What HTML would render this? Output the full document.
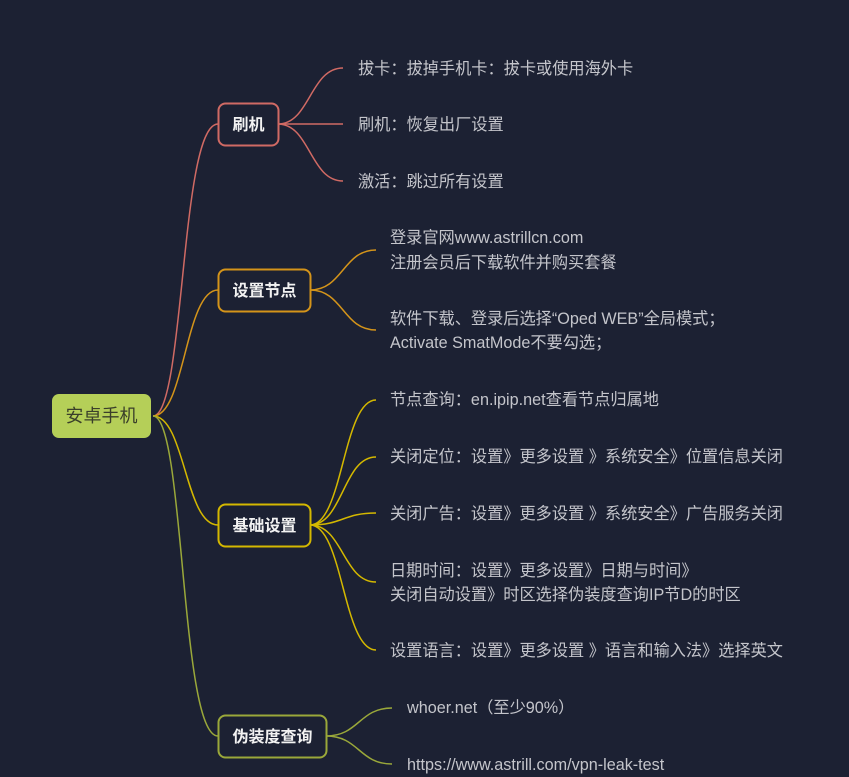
<!DOCTYPE html>
<html><head><meta charset="utf-8"><style>
html,body{margin:0;padding:0;background:#1c2133;}
svg{display:block}
text{font-family:"Liberation Sans","Noto Sans CJK SC",sans-serif;}
.l{fill:#c4c5cb;font-size:16.2px}
.b{fill:#f2f2f2;font-size:16px;font-weight:bold}
</style></head><body>
<svg width="849" height="777" viewBox="0 0 849 777" xmlns="http://www.w3.org/2000/svg">
<rect width="849" height="777" fill="#1c2133"/>
<g fill="none" stroke-width="1.5">
<path d="M153 416 C185 416 180 124 218 124" stroke="#d06a64"/>
<path d="M153 416 C185 416 185 290 218 290" stroke="#d4941a"/>
<path d="M153 416 C185 416 185 525 218 525" stroke="#d4b800"/>
<path d="M153 416 C185 416 180 736 218 736" stroke="#9aa83a"/>
<g stroke="#d06a64">
<path d="M278 124 C310 124 310 68 343 68"/>
<path d="M278 124 L343 124"/>
<path d="M278 124 C310 124 310 181 343 181"/>
</g>
<g stroke="#d4941a">
<path d="M310 290 C343 290 343 250 376 250"/>
<path d="M310 290 C343 290 343 330 376 330"/>
</g>
<g stroke="#d4b800">
<path d="M310 525 C343 525 343 400 376 400"/>
<path d="M310 525 C343 525 343 457 376 457"/>
<path d="M310 525 C343 525 343 513 376 513"/>
<path d="M310 525 C343 525 343 582 376 582"/>
<path d="M310 525 C343 525 343 650 376 650"/>
</g>
<g stroke="#9aa83a">
<path d="M326 736 C359 736 359 708 392 708"/>
<path d="M326 736 C359 736 359 764 392 764"/>
</g>
</g>
<rect x="52" y="394" width="99" height="44" rx="7" fill="#b5cf58"/>
<text x="101.5" y="422" text-anchor="middle" style="fill:#3a3f2a;font-size:18px">安卓手机</text>
<rect x="218.5" y="103.5" width="60" height="42" rx="7" fill="#1c2133" stroke="#d06a64" stroke-width="2"/>
<text x="248.5" y="130" text-anchor="middle" class="b">刷机</text>
<rect x="218.5" y="269.5" width="92" height="42" rx="7" fill="#1c2133" stroke="#d4941a" stroke-width="2"/>
<text x="264.5" y="296" text-anchor="middle" class="b">设置节点</text>
<rect x="218.5" y="504.5" width="92" height="42" rx="7" fill="#1c2133" stroke="#d4b800" stroke-width="2"/>
<text x="264.5" y="531" text-anchor="middle" class="b">基础设置</text>
<rect x="218.5" y="715.5" width="108" height="42" rx="7" fill="#1c2133" stroke="#9aa83a" stroke-width="2"/>
<text x="272.5" y="742" text-anchor="middle" class="b">伪装度查询</text>
<text x="358" y="74" class="l">拔卡：拔掉手机卡：拔卡或使用海外卡</text>
<text x="358" y="130" class="l">刷机：恢复出厂设置</text>
<text x="358" y="187" class="l">激活：跳过所有设置</text>
<text x="390" y="243" class="l">登录官网www.astrillcn.com</text>
<text x="390" y="268" class="l">注册会员后下载软件并购买套餐</text>
<text x="390" y="324" class="l">软件下载、登录后选择“Oped WEB”全局模式；</text>
<text x="390" y="348" class="l">Activate SmatMode不要勾选；</text>
<text x="390" y="405" class="l">节点查询：en.ipip.net查看节点归属地</text>
<text x="390" y="462" class="l">关闭定位：设置》更多设置 》系统安全》位置信息关闭</text>
<text x="390" y="519" class="l">关闭广告：设置》更多设置 》系统安全》广告服务关闭</text>
<text x="390" y="576" class="l">日期时间：设置》更多设置》日期与时间》</text>
<text x="390" y="600" class="l">关闭自动设置》时区选择伪装度查询IP节D的时区</text>
<text x="390" y="656" class="l">设置语言：设置》更多设置 》语言和输入法》选择英文</text>
<text x="407" y="713" class="l">whoer.net（至少90%）</text>
<text x="407" y="770" class="l">https://www.astrill.com/vpn-leak-test</text>
</svg>
</body></html>
